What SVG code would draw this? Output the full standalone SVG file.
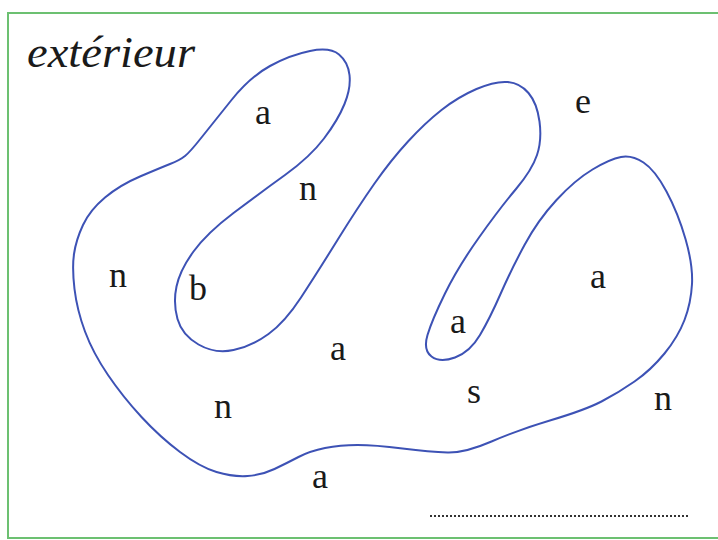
<svg xmlns="http://www.w3.org/2000/svg" width="718" height="540" viewBox="0 0 718 540">
<style>
.lbl{font-family:"Liberation Serif","Times New Roman",serif;font-size:36px;fill:#1a1a1a;text-anchor:middle}
.ttl{font-family:"Liberation Serif","Times New Roman",serif;font-size:44px;font-style:italic;fill:#1a1a1a}
.curve{fill:none;stroke:#3d52b5;stroke-width:2}
</style>
<rect width="718" height="540" fill="#ffffff"/>
<rect x="8" y="13" width="720" height="525" fill="none" stroke="#6cc071" stroke-width="2"/>
<g id="curve">
<path class="curve" d="M185,156 Q190,152 201.5,137.5 Q213,123 231.5,100 Q250,77 270,66 Q290,55 310,51 Q330,47 339,54.5 Q348,62 349.5,75 Q351,88 344.5,104 Q338,120 324,138.5 Q310,157 285,175 Q260,193 233.5,213 Q207,233 193.5,251.5 Q180,270 176.5,286.5 Q173,303 177.5,319 Q182,335 198.5,344.5 Q215,354 233.5,350 Q252,346 268.5,334 Q285,322 301,297.5 Q317,273 337.5,240 Q358,207 374.5,183.5 Q391,160 408,141.5 Q425,123 441.5,110 Q458,97 476.5,89 Q495,81 507.5,82 Q520,83 528.5,93 Q537,103 539.5,121.5 Q542,140 537,155 Q532,170 516,189 Q500,208 479,237.5 Q458,267 445,293.5 Q432,320 427.5,335 Q423,350 431.5,356.5 Q440,363 455,357.5 Q470,352 480,335 Q490,318 500.5,294 Q511,270 524.5,245 Q538,220 556.5,200 Q575,180 592.5,169.5 Q610,159 621,157 Q632,155 643.5,162.5 Q655,170 666.5,191.5 Q678,213 685.5,239 Q693,265 692,284 Q691,303 684.5,320 Q678,337 664.5,353.5 Q651,370 634.5,381.5 Q618,393 601.5,401.5 Q585,410 551.5,420 Q518,430 491.5,441.5 Q465,453 447.5,452.5 Q430,452 402.5,448.5 Q375,445 357.5,445 Q340,445 325,448 Q310,451 298.5,457 Q287,463 274.5,469 Q262,475 247.5,476 Q233,477 216.5,472 Q200,467 180,452 Q160,437 141.5,417 Q123,397 108,375 Q93,353 85,331.5 Q77,310 74.5,289 Q72,268 74,254 Q76,240 83,225 Q90,210 105,197.5 Q120,185 140,176.5 Q160,168 170,164 Q180,160 185,156 Z"/>
</g>
<g id="title"><text class="ttl" x="27" y="67" textLength="168" lengthAdjust="spacingAndGlyphs">extérieur</text></g>
<g id="labels">
<text class="lbl" x="263" y="124">a</text>
<text class="lbl" x="308" y="200">n</text>
<text class="lbl" x="583" y="113">e</text>
<text class="lbl" x="118" y="287">n</text>
<text class="lbl" x="198" y="300">b</text>
<text class="lbl" x="598" y="288">a</text>
<text class="lbl" x="458" y="333">a</text>
<text class="lbl" x="338" y="360">a</text>
<text class="lbl" x="223" y="418">n</text>
<text class="lbl" x="474" y="403">s</text>
<text class="lbl" x="663" y="410">n</text>
<text class="lbl" x="320" y="488">a</text>
</g>
<g id="answer-line"><line x1="430" y1="516" x2="690" y2="516" stroke="#333" stroke-width="2" stroke-dasharray="2 2"/></g>
</svg>
